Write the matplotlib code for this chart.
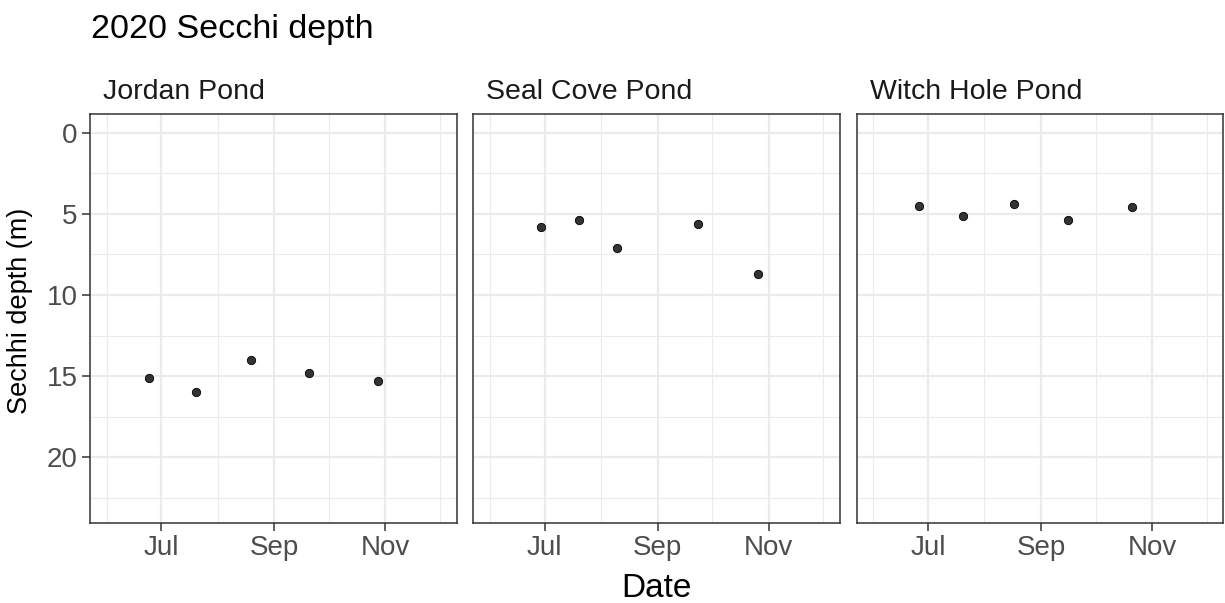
#!/usr/bin/env python3
"""
Secchi depth by pond, 2020 season.

Three side-by-side panels (one per pond) with depth on a reversed y axis,
so deeper readings sit lower in the panel.
"""

import datetime as dt
import matplotlib
matplotlib.use("Agg")
import matplotlib.pyplot as plt
import matplotlib.dates as mdates
from matplotlib import rcParams

rcParams['font.family'] = ['Liberation Sans', 'DejaVu Sans']

# Sampling dates and Secchi readings (m)
ponds = ['Jordan Pond', 'Seal Cove Pond', 'Witch Hole Pond']

jordan_dates = ['2020-06-24', '2020-07-20', '2020-08-19', '2020-09-20', '2020-10-28']
jordan_depth = [15.1, 16.0, 14.0, 14.8, 15.3]

seal_cove_dates = ['2020-06-29', '2020-07-20', '2020-08-10', '2020-09-23', '2020-10-26']
seal_cove_depth = [5.8, 5.4, 7.1, 5.6, 8.7]

witch_hole_dates = ['2020-06-26', '2020-07-20', '2020-08-17', '2020-09-16', '2020-10-21']
witch_hole_depth = [4.5, 5.1, 4.4, 5.4, 4.6]

y_ticks = [0, 5, 10, 15, 20]
x_tick_labels = ['Jul', 'Sep', 'Nov']

GRID = '#EBEBEB'
DARK = '#333333'
TICK_TEXT = '#4D4D4D'


def to_dates(strings):
    return [dt.datetime.strptime(s, '%Y-%m-%d') for s in strings]


series = [
    (to_dates(jordan_dates), jordan_depth),
    (to_dates(seal_cove_dates), seal_cove_depth),
    (to_dates(witch_hole_dates), witch_hole_depth),
]

# date scale: Jun 1 - Dec 1 with a 5% pad either side
x_lo = mdates.date2num(dt.datetime(2020, 6, 1))
x_hi = mdates.date2num(dt.datetime(2020, 12, 1))
pad = 0.05 * (x_hi - x_lo)
major_x = [mdates.date2num(dt.datetime(2020, m, 1)) for m in (7, 9, 11)]
minor_x = [mdates.date2num(dt.datetime(2020, m, 1)) for m in (6, 8, 10, 12)]

fig = plt.figure(figsize=(12.25, 6.03), dpi=100)

W, H = 1225.0, 603.0
panel_left = [90.0, 473.3, 856.7]
panel_w = 366.7
panel_top, panel_bottom = 114.3, 522.7

for i, (name, (dates, depth)) in enumerate(zip(ponds, series)):
    ax = fig.add_axes([panel_left[i] / W, 1 - panel_bottom / H,
                       panel_w / W, (panel_bottom - panel_top) / H])

    ax.set_xlim(x_lo - pad, x_hi + pad)
    ax.set_ylim(24.05, -1.15)

    ax.set_xticks(major_x)
    ax.set_xticklabels(x_tick_labels)
    ax.set_xticks(minor_x, minor=True)
    ax.set_yticks(y_ticks)
    ax.set_yticks([2.5, 7.5, 12.5, 17.5, 22.5], minor=True)

    ax.grid(which='major', color=GRID, linewidth=1.6, zorder=0)
    ax.grid(which='minor', color=GRID, linewidth=0.8, zorder=0)
    ax.set_axisbelow(True)

    ax.tick_params(which='major', length=5.5, width=1.1, color=DARK,
                   labelsize=20, labelcolor=TICK_TEXT, pad=3.5)
    ax.tick_params(which='minor', length=0)
    if i > 0:
        ax.tick_params(axis='y', which='both', length=0, labelleft=False)

    for sp in ax.spines.values():
        sp.set_color(DARK)
        sp.set_linewidth(1.1)

    ax.scatter(mdates.date2num(dates), depth, s=36, color=DARK,
               edgecolor='black', linewidth=0.6, zorder=3)

    # facet label, left aligned above the panel
    fig.text((panel_left[i] + 13) / W, 1 - 99.3 / H, name,
             fontsize=20.5, ha='left', va='baseline', color='#1A1A1A')

fig.text(90.7 / W, 1 - 37.7 / H, '2020 Secchi depth',
         fontsize=24.5, ha='left', va='baseline', color='black')
fig.text(656.7 / W, 1 - 597 / H, 'Date', fontsize=24,
         ha='center', va='baseline', color='black')
fig.text(20.5 / W, 1 - 310.5 / H, 'Sechhi depth (m)', fontsize=19.5,
         rotation=90, ha='center', va='center', color='black')

fig.savefig('out.png', dpi=100, facecolor='white')
